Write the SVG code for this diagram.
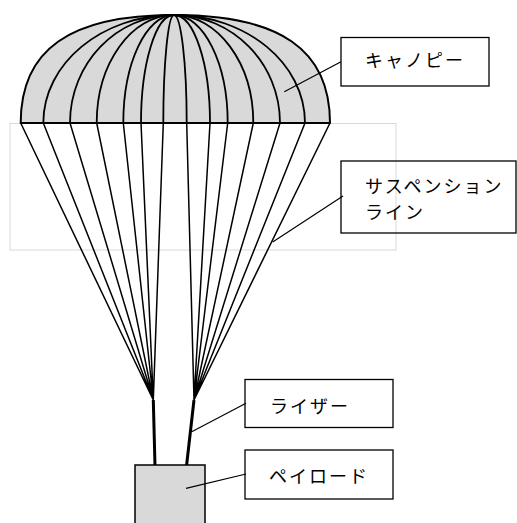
<svg xmlns="http://www.w3.org/2000/svg" width="517" height="523" viewBox="0 0 517 523">
  <style>
    .frame { fill: none; stroke: #d9d9d9; stroke-width: 1; }
    .canopy { fill: #d9d9d9; stroke: #000; stroke-width: 2; stroke-linejoin: round; }
    .gore { fill: none; stroke: #000; stroke-width: 1.8; }
    .line { fill: none; stroke: #000; stroke-width: 1.5; }
    .riser { fill: none; stroke: #000; stroke-width: 3; }
    .payload { fill: #d9d9d9; stroke: #000; stroke-width: 1.5; }
    .box { fill: none; stroke: #000; stroke-width: 1.3; }
    .leader { fill: none; stroke: #000; stroke-width: 1.2; }
    .label { font-family: "Noto Sans CJK JP", "Noto Sans", sans-serif; font-size: 18px; letter-spacing: 2px; fill: #000; }
  </style>

  <rect class="frame" x="10" y="123.5" width="386" height="126.5"/>

  <g id="canopy">
    <path class="canopy" d="M20.7,123 C20.7,49.6 69.8,15 174,15 C280,15 330,49.6 330,123 Z"/>
    <path class="gore" d="M43.3,123 C43.3,63.4 101.9,15 174,15"/>
    <path class="gore" d="M70,123 C70,63.4 116.6,15 174,15"/>
    <path class="gore" d="M96.7,123 C96.7,63.4 131.3,15 174,15"/>
    <path class="gore" d="M123.3,123 C123.3,63.4 146,15 174,15"/>
    <path class="gore" d="M141,123 C141,63.4 155.8,15 174,15"/>
    <path class="gore" d="M163.3,123 C163.3,63.4 168.1,15 174,15"/>
    <path class="gore" d="M186.7,123 C186.7,63.4 181,15 174,15"/>
    <path class="gore" d="M210,123 C210,63.4 193.9,15 174,15"/>
    <path class="gore" d="M227.7,123 C227.7,63.4 203.6,15 174,15"/>
    <path class="gore" d="M253.3,123 C253.3,63.4 217.8,15 174,15"/>
    <path class="gore" d="M280,123 C280,63.4 232.5,15 174,15"/>
    <path class="gore" d="M305,123 C305,63.4 246.3,15 174,15"/>
  </g>

  <g id="suspension-lines">
    <path class="line" d="M20.7,123 L153.3,400 M43.3,123 L153.3,400 M70,123 L153.3,400 M96.7,123 L153.3,400 M123.3,123 L153.3,400 M141,123 L153.3,400 M163.3,123 L153.3,400"/>
    <path class="line" d="M186.7,123 L194,400 M210,123 L194,400 M227.7,123 L194,400 M253.3,123 L194,400 M280,123 L194,400 M305,123 L194,400 M330,123 L194,400"/>
  </g>

  <g id="risers">
    <path class="riser" d="M153.3,400 L155,466"/>
    <path class="riser" d="M194,400 L186.5,466"/>
  </g>

  <g id="payload">
    <rect class="payload" x="135" y="465" width="70" height="70"/>
  </g>

  <g id="connectors">
    <path class="leader" d="M341,61.7 L284.3,91.7"/>
    <path class="leader" d="M343,196 L272.7,242"/>
    <path class="leader" d="M246,403.3 L191.7,431.7"/>
    <path class="leader" d="M246,474 L186,488.3"/>
  </g>

  <g id="label-canopy">
    <rect class="box" x="341" y="37.5" width="148" height="48.5"/>
    <text class="label" x="365" y="67">キャノピー</text>
  </g>

  <g id="label-suspension">
    <rect class="box" x="341" y="161" width="175" height="72"/>
    <text class="label" x="365" y="193">サスペンション</text>
    <text class="label" x="365" y="219">ライン</text>
  </g>

  <g id="label-riser">
    <rect class="box" x="245" y="379.5" width="148" height="48"/>
    <text class="label" x="270" y="413">ライザー</text>
  </g>

  <g id="label-payload">
    <rect class="box" x="245" y="450" width="148" height="49"/>
    <text class="label" x="269" y="483">ペイロード</text>
  </g>
</svg>
